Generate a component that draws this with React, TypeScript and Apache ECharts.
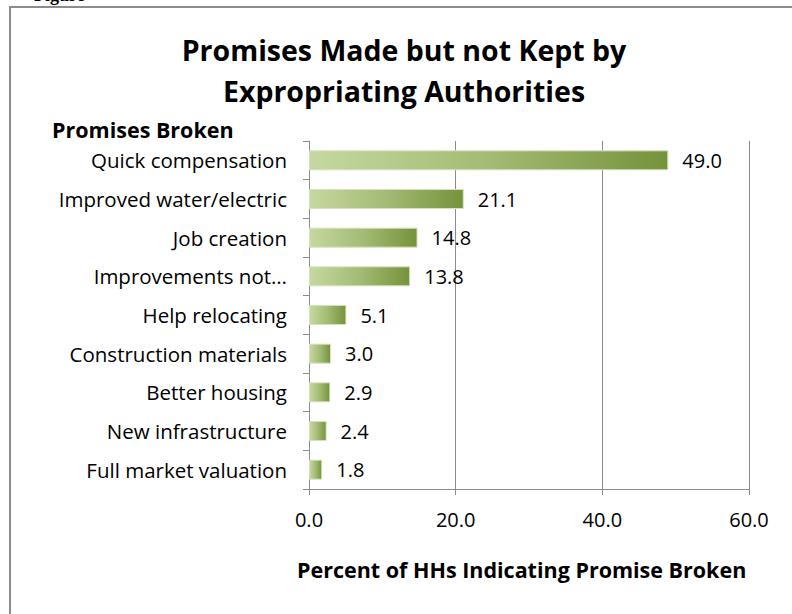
import React, { useEffect, useRef } from "react";
import * as echarts from "echarts";

const categories = [
  "Quick compensation",
  "Improved water/electric",
  "Job creation",
  "Improvements not…",
  "Help relocating",
  "Construction materials",
  "Better housing",
  "New infrastructure",
  "Full market valuation",
];
const values = [49.0, 21.1, 14.8, 13.8, 5.1, 3.0, 2.9, 2.4, 1.8];
const xTicks = [0, 20, 40, 60];

const FONT = "'Open Sans', Lato, sans-serif";

export default function App() {
  const ref = useRef<HTMLDivElement>(null);
  useEffect(() => {
    if (!ref.current) return;
    const chart = echarts.init(ref.current, null, { renderer: "svg" });
    chart.setOption({
      animation: false,
      backgroundColor: "#ffffff",
      textStyle: { fontFamily: FONT },
      title: {
        text: "Promises Made but not Kept by\nExpropriating Authorities",
        left: 399,
        top: 24,
        textAlign: "center",
        textStyle: {
          fontFamily: FONT,
          fontSize: 28.5,
          fontWeight: "bold",
          color: "#000",
          lineHeight: 41,
        },
      },
      graphic: [
        {
          type: "rect",
          shape: { x: 10, y: 7, width: 820, height: 640 },
          style: { fill: "none", stroke: "#8c8c8c", lineWidth: 2 },
          silent: true,
        },
        {
          type: "text",
          left: 34,
          top: -14,
          style: { text: "Figure", font: "bold 18px 'Liberation Serif', serif", fill: "#000" },
        },
        {
          type: "text",
          left: 52,
          top: 118,
          style: { text: "Promises Broken", font: `bold 21.5px ${FONT}`, fill: "#000" },
        },
        {
          type: "text",
          left: 297,
          top: 558,
          style: {
            text: "Percent of HHs Indicating Promise Broken",
            font: `bold 21.5px ${FONT}`,
            fill: "#000",
          },
        },
      ],
      grid: { left: 309, right: 43, top: 141, bottom: 125 },
      xAxis: {
        type: "value",
        min: xTicks[0],
        max: xTicks[xTicks.length - 1],
        interval: 20,
        axisLine: { show: true, lineStyle: { color: "#8c8c8c", width: 1 } },
        axisTick: { show: true, length: 6, lineStyle: { color: "#8c8c8c" } },
        splitLine: { show: true, lineStyle: { color: "#8c8c8c", width: 1 } },
        axisLabel: {
          margin: 20,
          fontSize: 20,
          color: "#000",
          fontFamily: FONT,
          formatter: (v: number) => v.toFixed(1),
        },
      },
      yAxis: {
        type: "category",
        data: categories,
        inverse: true,
        axisLine: { show: true, lineStyle: { color: "#8c8c8c" } },
        axisTick: { show: true, length: 6, lineStyle: { color: "#8c8c8c" } },
        axisLabel: { margin: 22, fontSize: 20.5, color: "#000", fontFamily: FONT },
      },
      series: [
        {
          type: "bar",
          data: values,
          barWidth: 20,
          itemStyle: {
            color: new echarts.graphic.LinearGradient(0, 0, 1, 0, [
              { offset: 0, color: "#c6d8a0" },
              { offset: 0.5, color: "#a3bb74" },
              { offset: 1, color: "#76923b" },
            ]),
            borderColor: "#d5e3bb",
            borderWidth: 1,
          },
          label: {
            show: true,
            position: "right",
            distance: 14,
            fontSize: 20,
            color: "#000",
            fontFamily: FONT,
            formatter: (p: any) => Number(p.value).toFixed(1),
          },
        },
      ],
    });
    return () => chart.dispose();
  }, []);
  return (
    <div
      ref={ref}
      style={{ position: "absolute", left: 0, top: 0, width: 792, height: 614 }}
    />
  );
}
